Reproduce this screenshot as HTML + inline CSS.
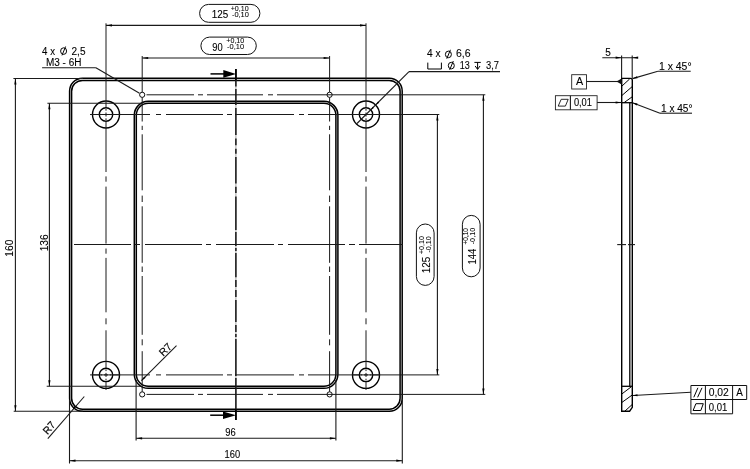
<!DOCTYPE html>
<html><head><meta charset="utf-8"><style>
html,body{margin:0;padding:0;background:#fff;width:750px;height:469px;overflow:hidden;}
svg{display:block;will-change:transform;}
text{font-family:"Liberation Sans",sans-serif;fill:#000;stroke:#000;}
</style></head><body>
<svg width="750" height="469" viewBox="0 0 750 469">
<rect width="750" height="469" fill="#fff"/>
<rect x="69.6" y="78.3" width="332.60" height="332.95" rx="12.8" fill="none" stroke="#000" stroke-width="1.5"/>
<rect x="71.6" y="80.4" width="328.50" height="328.80" rx="10.9" fill="none" stroke="#000" stroke-width="1.5"/>
<rect x="134.3" y="101.3" width="203.60" height="287.00" rx="14" fill="none" stroke="#000" stroke-width="1.5"/>
<rect x="136.3" y="103.3" width="199.60" height="283.00" rx="12" fill="none" stroke="#000" stroke-width="1.5"/>
<circle cx="106" cy="114.5" r="13.5" fill="none" stroke="#000" stroke-width="1.4"/>
<circle cx="106" cy="114.5" r="6.7" fill="none" stroke="#000" stroke-width="1.4"/>
<circle cx="366" cy="114.5" r="13.5" fill="none" stroke="#000" stroke-width="1.4"/>
<circle cx="366" cy="114.5" r="6.7" fill="none" stroke="#000" stroke-width="1.4"/>
<circle cx="106" cy="374.9" r="13.5" fill="none" stroke="#000" stroke-width="1.4"/>
<circle cx="106" cy="374.9" r="6.7" fill="none" stroke="#000" stroke-width="1.4"/>
<circle cx="366" cy="374.9" r="13.5" fill="none" stroke="#000" stroke-width="1.4"/>
<circle cx="366" cy="374.9" r="6.7" fill="none" stroke="#000" stroke-width="1.4"/>
<circle cx="142.2" cy="94.8" r="2.6" fill="none" stroke="#000" stroke-width="0.95"/>
<circle cx="329.6" cy="94.8" r="2.6" fill="none" stroke="#000" stroke-width="0.95"/>
<circle cx="142.2" cy="394.4" r="2.6" fill="none" stroke="#000" stroke-width="0.95"/>
<circle cx="329.6" cy="394.4" r="2.6" fill="none" stroke="#000" stroke-width="0.95"/>
<line x1="90" y1="114.5" x2="150" y2="114.5" stroke="#1a1a1a" stroke-width="1.0" stroke-linecap="butt"/>
<line x1="156" y1="114.5" x2="161" y2="114.5" stroke="#1a1a1a" stroke-width="1.0" stroke-linecap="butt"/>
<line x1="166" y1="114.5" x2="223" y2="114.5" stroke="#1a1a1a" stroke-width="1.0" stroke-linecap="butt"/>
<line x1="227" y1="114.5" x2="232" y2="114.5" stroke="#1a1a1a" stroke-width="1.0" stroke-linecap="butt"/>
<line x1="235" y1="114.5" x2="294" y2="114.5" stroke="#1a1a1a" stroke-width="1.0" stroke-linecap="butt"/>
<line x1="299" y1="114.5" x2="304" y2="114.5" stroke="#1a1a1a" stroke-width="1.0" stroke-linecap="butt"/>
<line x1="308" y1="114.5" x2="439.3" y2="114.5" stroke="#1a1a1a" stroke-width="1.0" stroke-linecap="butt"/>
<line x1="90" y1="374.9" x2="150" y2="374.9" stroke="#1a1a1a" stroke-width="1.0" stroke-linecap="butt"/>
<line x1="156" y1="374.9" x2="161" y2="374.9" stroke="#1a1a1a" stroke-width="1.0" stroke-linecap="butt"/>
<line x1="166" y1="374.9" x2="223" y2="374.9" stroke="#1a1a1a" stroke-width="1.0" stroke-linecap="butt"/>
<line x1="227" y1="374.9" x2="232" y2="374.9" stroke="#1a1a1a" stroke-width="1.0" stroke-linecap="butt"/>
<line x1="235" y1="374.9" x2="294" y2="374.9" stroke="#1a1a1a" stroke-width="1.0" stroke-linecap="butt"/>
<line x1="299" y1="374.9" x2="304" y2="374.9" stroke="#1a1a1a" stroke-width="1.0" stroke-linecap="butt"/>
<line x1="308" y1="374.9" x2="439.3" y2="374.9" stroke="#1a1a1a" stroke-width="1.0" stroke-linecap="butt"/>
<line x1="146.5" y1="94.8" x2="194" y2="94.8" stroke="#1a1a1a" stroke-width="1.0" stroke-linecap="butt"/>
<line x1="198" y1="94.8" x2="203" y2="94.8" stroke="#1a1a1a" stroke-width="1.0" stroke-linecap="butt"/>
<line x1="207" y1="94.8" x2="263" y2="94.8" stroke="#1a1a1a" stroke-width="1.0" stroke-linecap="butt"/>
<line x1="268" y1="94.8" x2="273" y2="94.8" stroke="#1a1a1a" stroke-width="1.0" stroke-linecap="butt"/>
<line x1="277" y1="94.8" x2="485.3" y2="94.8" stroke="#1a1a1a" stroke-width="1.0" stroke-linecap="butt"/>
<line x1="146.5" y1="394.4" x2="194" y2="394.4" stroke="#1a1a1a" stroke-width="1.0" stroke-linecap="butt"/>
<line x1="198" y1="394.4" x2="203" y2="394.4" stroke="#1a1a1a" stroke-width="1.0" stroke-linecap="butt"/>
<line x1="207" y1="394.4" x2="263" y2="394.4" stroke="#1a1a1a" stroke-width="1.0" stroke-linecap="butt"/>
<line x1="268" y1="394.4" x2="273" y2="394.4" stroke="#1a1a1a" stroke-width="1.0" stroke-linecap="butt"/>
<line x1="277" y1="394.4" x2="485.3" y2="394.4" stroke="#1a1a1a" stroke-width="1.0" stroke-linecap="butt"/>
<line x1="74" y1="244.5" x2="131" y2="244.5" stroke="#1a1a1a" stroke-width="1.0" stroke-linecap="butt"/>
<line x1="135" y1="244.5" x2="140" y2="244.5" stroke="#1a1a1a" stroke-width="1.0" stroke-linecap="butt"/>
<line x1="145" y1="244.5" x2="202" y2="244.5" stroke="#1a1a1a" stroke-width="1.0" stroke-linecap="butt"/>
<line x1="206" y1="244.5" x2="211" y2="244.5" stroke="#1a1a1a" stroke-width="1.0" stroke-linecap="butt"/>
<line x1="216" y1="244.5" x2="274" y2="244.5" stroke="#1a1a1a" stroke-width="1.0" stroke-linecap="butt"/>
<line x1="278" y1="244.5" x2="283" y2="244.5" stroke="#1a1a1a" stroke-width="1.0" stroke-linecap="butt"/>
<line x1="288" y1="244.5" x2="345" y2="244.5" stroke="#1a1a1a" stroke-width="1.0" stroke-linecap="butt"/>
<line x1="349" y1="244.5" x2="355" y2="244.5" stroke="#1a1a1a" stroke-width="1.0" stroke-linecap="butt"/>
<line x1="359" y1="244.5" x2="403" y2="244.5" stroke="#1a1a1a" stroke-width="1.0" stroke-linecap="butt"/>
<line x1="106" y1="23.3" x2="106" y2="101" stroke="#1a1a1a" stroke-width="1.0" stroke-linecap="butt"/>
<line x1="106" y1="128" x2="106" y2="172" stroke="#1a1a1a" stroke-width="1.0" stroke-linecap="butt"/>
<line x1="106" y1="176.4" x2="106" y2="181.7" stroke="#1a1a1a" stroke-width="1.0" stroke-linecap="butt"/>
<line x1="106" y1="186.6" x2="106" y2="243.6" stroke="#1a1a1a" stroke-width="1.0" stroke-linecap="butt"/>
<line x1="106" y1="248.5" x2="106" y2="253.7" stroke="#1a1a1a" stroke-width="1.0" stroke-linecap="butt"/>
<line x1="106" y1="257.9" x2="106" y2="312.3" stroke="#1a1a1a" stroke-width="1.0" stroke-linecap="butt"/>
<line x1="106" y1="318.3" x2="106" y2="324.3" stroke="#1a1a1a" stroke-width="1.0" stroke-linecap="butt"/>
<line x1="106" y1="330.3" x2="106" y2="361.5" stroke="#1a1a1a" stroke-width="1.0" stroke-linecap="butt"/>
<line x1="106" y1="388.3" x2="106" y2="390" stroke="#1a1a1a" stroke-width="1.0" stroke-linecap="butt"/>
<line x1="366" y1="23.3" x2="366" y2="101" stroke="#1a1a1a" stroke-width="1.0" stroke-linecap="butt"/>
<line x1="366" y1="128" x2="366" y2="172" stroke="#1a1a1a" stroke-width="1.0" stroke-linecap="butt"/>
<line x1="366" y1="176.4" x2="366" y2="181.7" stroke="#1a1a1a" stroke-width="1.0" stroke-linecap="butt"/>
<line x1="366" y1="186.6" x2="366" y2="243.6" stroke="#1a1a1a" stroke-width="1.0" stroke-linecap="butt"/>
<line x1="366" y1="248.5" x2="366" y2="253.7" stroke="#1a1a1a" stroke-width="1.0" stroke-linecap="butt"/>
<line x1="366" y1="257.9" x2="366" y2="312.3" stroke="#1a1a1a" stroke-width="1.0" stroke-linecap="butt"/>
<line x1="366" y1="318.3" x2="366" y2="324.3" stroke="#1a1a1a" stroke-width="1.0" stroke-linecap="butt"/>
<line x1="366" y1="330.3" x2="366" y2="361.5" stroke="#1a1a1a" stroke-width="1.0" stroke-linecap="butt"/>
<line x1="366" y1="388.3" x2="366" y2="390" stroke="#1a1a1a" stroke-width="1.0" stroke-linecap="butt"/>
<line x1="142.2" y1="56" x2="142.2" y2="92.2" stroke="#1a1a1a" stroke-width="1.0" stroke-linecap="butt"/>
<line x1="142.2" y1="97.4" x2="142.2" y2="121.5" stroke="#1a1a1a" stroke-width="1.0" stroke-linecap="butt"/>
<line x1="142.2" y1="125.8" x2="142.2" y2="130" stroke="#1a1a1a" stroke-width="1.0" stroke-linecap="butt"/>
<line x1="142.2" y1="134.3" x2="142.2" y2="190.3" stroke="#1a1a1a" stroke-width="1.0" stroke-linecap="butt"/>
<line x1="142.2" y1="195.6" x2="142.2" y2="202" stroke="#1a1a1a" stroke-width="1.0" stroke-linecap="butt"/>
<line x1="142.2" y1="206.3" x2="142.2" y2="262.8" stroke="#1a1a1a" stroke-width="1.0" stroke-linecap="butt"/>
<line x1="142.2" y1="266.5" x2="142.2" y2="272" stroke="#1a1a1a" stroke-width="1.0" stroke-linecap="butt"/>
<line x1="142.2" y1="276" x2="142.2" y2="334.8" stroke="#1a1a1a" stroke-width="1.0" stroke-linecap="butt"/>
<line x1="142.2" y1="339.3" x2="142.2" y2="345.3" stroke="#1a1a1a" stroke-width="1.0" stroke-linecap="butt"/>
<line x1="142.2" y1="351.2" x2="142.2" y2="391.8" stroke="#1a1a1a" stroke-width="1.0" stroke-linecap="butt"/>
<line x1="329.6" y1="56" x2="329.6" y2="92.2" stroke="#1a1a1a" stroke-width="1.0" stroke-linecap="butt"/>
<line x1="329.6" y1="97.4" x2="329.6" y2="121.5" stroke="#1a1a1a" stroke-width="1.0" stroke-linecap="butt"/>
<line x1="329.6" y1="125.8" x2="329.6" y2="130" stroke="#1a1a1a" stroke-width="1.0" stroke-linecap="butt"/>
<line x1="329.6" y1="134.3" x2="329.6" y2="190.3" stroke="#1a1a1a" stroke-width="1.0" stroke-linecap="butt"/>
<line x1="329.6" y1="195.6" x2="329.6" y2="202" stroke="#1a1a1a" stroke-width="1.0" stroke-linecap="butt"/>
<line x1="329.6" y1="206.3" x2="329.6" y2="262.8" stroke="#1a1a1a" stroke-width="1.0" stroke-linecap="butt"/>
<line x1="329.6" y1="266.5" x2="329.6" y2="272" stroke="#1a1a1a" stroke-width="1.0" stroke-linecap="butt"/>
<line x1="329.6" y1="276" x2="329.6" y2="334.8" stroke="#1a1a1a" stroke-width="1.0" stroke-linecap="butt"/>
<line x1="329.6" y1="339.3" x2="329.6" y2="345.3" stroke="#1a1a1a" stroke-width="1.0" stroke-linecap="butt"/>
<line x1="329.6" y1="351.2" x2="329.6" y2="391.8" stroke="#1a1a1a" stroke-width="1.0" stroke-linecap="butt"/>
<line x1="92.5" y1="114.5" x2="99.2" y2="114.5" stroke="#1a1a1a" stroke-width="1.0" stroke-linecap="butt"/>
<line x1="106" y1="101.0" x2="106" y2="107.7" stroke="#1a1a1a" stroke-width="1.0" stroke-linecap="butt"/>
<line x1="100.5" y1="114.5" x2="102.2" y2="114.5" stroke="#1a1a1a" stroke-width="1.0" stroke-linecap="butt"/>
<line x1="106" y1="109.0" x2="106" y2="110.7" stroke="#1a1a1a" stroke-width="1.0" stroke-linecap="butt"/>
<line x1="104" y1="114.5" x2="108" y2="114.5" stroke="#1a1a1a" stroke-width="1.0" stroke-linecap="butt"/>
<line x1="106" y1="112.5" x2="106" y2="116.5" stroke="#1a1a1a" stroke-width="1.0" stroke-linecap="butt"/>
<line x1="109.8" y1="114.5" x2="111.5" y2="114.5" stroke="#1a1a1a" stroke-width="1.0" stroke-linecap="butt"/>
<line x1="106" y1="118.3" x2="106" y2="120.0" stroke="#1a1a1a" stroke-width="1.0" stroke-linecap="butt"/>
<line x1="112.8" y1="114.5" x2="119.5" y2="114.5" stroke="#1a1a1a" stroke-width="1.0" stroke-linecap="butt"/>
<line x1="106" y1="121.3" x2="106" y2="128.0" stroke="#1a1a1a" stroke-width="1.0" stroke-linecap="butt"/>
<line x1="352.5" y1="114.5" x2="359.2" y2="114.5" stroke="#1a1a1a" stroke-width="1.0" stroke-linecap="butt"/>
<line x1="366" y1="101.0" x2="366" y2="107.7" stroke="#1a1a1a" stroke-width="1.0" stroke-linecap="butt"/>
<line x1="360.5" y1="114.5" x2="362.2" y2="114.5" stroke="#1a1a1a" stroke-width="1.0" stroke-linecap="butt"/>
<line x1="366" y1="109.0" x2="366" y2="110.7" stroke="#1a1a1a" stroke-width="1.0" stroke-linecap="butt"/>
<line x1="364" y1="114.5" x2="368" y2="114.5" stroke="#1a1a1a" stroke-width="1.0" stroke-linecap="butt"/>
<line x1="366" y1="112.5" x2="366" y2="116.5" stroke="#1a1a1a" stroke-width="1.0" stroke-linecap="butt"/>
<line x1="369.8" y1="114.5" x2="371.5" y2="114.5" stroke="#1a1a1a" stroke-width="1.0" stroke-linecap="butt"/>
<line x1="366" y1="118.3" x2="366" y2="120.0" stroke="#1a1a1a" stroke-width="1.0" stroke-linecap="butt"/>
<line x1="372.8" y1="114.5" x2="379.5" y2="114.5" stroke="#1a1a1a" stroke-width="1.0" stroke-linecap="butt"/>
<line x1="366" y1="121.3" x2="366" y2="128.0" stroke="#1a1a1a" stroke-width="1.0" stroke-linecap="butt"/>
<line x1="92.5" y1="374.9" x2="99.2" y2="374.9" stroke="#1a1a1a" stroke-width="1.0" stroke-linecap="butt"/>
<line x1="106" y1="361.4" x2="106" y2="368.09999999999997" stroke="#1a1a1a" stroke-width="1.0" stroke-linecap="butt"/>
<line x1="100.5" y1="374.9" x2="102.2" y2="374.9" stroke="#1a1a1a" stroke-width="1.0" stroke-linecap="butt"/>
<line x1="106" y1="369.4" x2="106" y2="371.09999999999997" stroke="#1a1a1a" stroke-width="1.0" stroke-linecap="butt"/>
<line x1="104" y1="374.9" x2="108" y2="374.9" stroke="#1a1a1a" stroke-width="1.0" stroke-linecap="butt"/>
<line x1="106" y1="372.9" x2="106" y2="376.9" stroke="#1a1a1a" stroke-width="1.0" stroke-linecap="butt"/>
<line x1="109.8" y1="374.9" x2="111.5" y2="374.9" stroke="#1a1a1a" stroke-width="1.0" stroke-linecap="butt"/>
<line x1="106" y1="378.7" x2="106" y2="380.4" stroke="#1a1a1a" stroke-width="1.0" stroke-linecap="butt"/>
<line x1="112.8" y1="374.9" x2="119.5" y2="374.9" stroke="#1a1a1a" stroke-width="1.0" stroke-linecap="butt"/>
<line x1="106" y1="381.7" x2="106" y2="388.4" stroke="#1a1a1a" stroke-width="1.0" stroke-linecap="butt"/>
<line x1="352.5" y1="374.9" x2="359.2" y2="374.9" stroke="#1a1a1a" stroke-width="1.0" stroke-linecap="butt"/>
<line x1="366" y1="361.4" x2="366" y2="368.09999999999997" stroke="#1a1a1a" stroke-width="1.0" stroke-linecap="butt"/>
<line x1="360.5" y1="374.9" x2="362.2" y2="374.9" stroke="#1a1a1a" stroke-width="1.0" stroke-linecap="butt"/>
<line x1="366" y1="369.4" x2="366" y2="371.09999999999997" stroke="#1a1a1a" stroke-width="1.0" stroke-linecap="butt"/>
<line x1="364" y1="374.9" x2="368" y2="374.9" stroke="#1a1a1a" stroke-width="1.0" stroke-linecap="butt"/>
<line x1="366" y1="372.9" x2="366" y2="376.9" stroke="#1a1a1a" stroke-width="1.0" stroke-linecap="butt"/>
<line x1="369.8" y1="374.9" x2="371.5" y2="374.9" stroke="#1a1a1a" stroke-width="1.0" stroke-linecap="butt"/>
<line x1="366" y1="378.7" x2="366" y2="380.4" stroke="#1a1a1a" stroke-width="1.0" stroke-linecap="butt"/>
<line x1="372.8" y1="374.9" x2="379.5" y2="374.9" stroke="#1a1a1a" stroke-width="1.0" stroke-linecap="butt"/>
<line x1="366" y1="381.7" x2="366" y2="388.4" stroke="#1a1a1a" stroke-width="1.0" stroke-linecap="butt"/>
<line x1="235.9" y1="69" x2="235.9" y2="420" stroke="#999" stroke-width="0.9" stroke-linecap="butt"/>
<line x1="235.9" y1="69" x2="235.9" y2="86.5" stroke="#000" stroke-width="1.35" stroke-linecap="butt"/>
<line x1="235.9" y1="89" x2="235.9" y2="105" stroke="#000" stroke-width="1.35" stroke-linecap="butt"/>
<line x1="235.9" y1="108" x2="235.9" y2="135" stroke="#000" stroke-width="1.35" stroke-linecap="butt"/>
<line x1="235.9" y1="138.5" x2="235.9" y2="145.3" stroke="#000" stroke-width="1.35" stroke-linecap="butt"/>
<line x1="235.9" y1="148.7" x2="235.9" y2="153.8" stroke="#000" stroke-width="1.35" stroke-linecap="butt"/>
<line x1="235.9" y1="157" x2="235.9" y2="183.5" stroke="#000" stroke-width="1.35" stroke-linecap="butt"/>
<line x1="235.9" y1="186.8" x2="235.9" y2="193" stroke="#000" stroke-width="1.35" stroke-linecap="butt"/>
<line x1="235.9" y1="196.4" x2="235.9" y2="230" stroke="#000" stroke-width="1.35" stroke-linecap="butt"/>
<line x1="235.9" y1="232" x2="235.9" y2="246" stroke="#000" stroke-width="1.35" stroke-linecap="butt"/>
<line x1="235.9" y1="248" x2="235.9" y2="251" stroke="#000" stroke-width="1.35" stroke-linecap="butt"/>
<line x1="235.9" y1="253" x2="235.9" y2="277.3" stroke="#000" stroke-width="1.35" stroke-linecap="butt"/>
<line x1="235.9" y1="280" x2="235.9" y2="287" stroke="#000" stroke-width="1.35" stroke-linecap="butt"/>
<line x1="235.9" y1="290" x2="235.9" y2="297" stroke="#000" stroke-width="1.35" stroke-linecap="butt"/>
<line x1="235.9" y1="300" x2="235.9" y2="322" stroke="#000" stroke-width="1.35" stroke-linecap="butt"/>
<line x1="235.9" y1="325" x2="235.9" y2="332" stroke="#000" stroke-width="1.35" stroke-linecap="butt"/>
<line x1="235.9" y1="334" x2="235.9" y2="337" stroke="#000" stroke-width="1.35" stroke-linecap="butt"/>
<line x1="235.9" y1="339" x2="235.9" y2="376" stroke="#000" stroke-width="1.35" stroke-linecap="butt"/>
<line x1="235.9" y1="378" x2="235.9" y2="420" stroke="#000" stroke-width="1.35" stroke-linecap="butt"/>
<line x1="235.9" y1="69" x2="235.9" y2="80" stroke="#000" stroke-width="1.6" stroke-linecap="butt"/>
<line x1="235.9" y1="409" x2="235.9" y2="420" stroke="#000" stroke-width="1.6" stroke-linecap="butt"/>
<line x1="210.5" y1="73.9" x2="226" y2="73.9" stroke="#000" stroke-width="1.5" stroke-linecap="butt"/>
<path d="M236,73.9 L223.3,70.1 L223.3,77.7 Z" fill="#000"/>
<line x1="210.2" y1="415.2" x2="226" y2="415.2" stroke="#000" stroke-width="1.5" stroke-linecap="butt"/>
<path d="M236,415.2 L223,411.6 L223,418.9 Z" fill="#000"/>
<line x1="13.4" y1="78.5" x2="83" y2="78.5" stroke="#1a1a1a" stroke-width="1.1" stroke-linecap="butt"/>
<line x1="13.7" y1="411.3" x2="83" y2="411.3" stroke="#1a1a1a" stroke-width="1.1" stroke-linecap="butt"/>
<line x1="47.4" y1="103.3" x2="141.5" y2="103.3" stroke="#1a1a1a" stroke-width="1.1" stroke-linecap="butt"/>
<line x1="46.7" y1="386.3" x2="141.5" y2="386.3" stroke="#1a1a1a" stroke-width="1.1" stroke-linecap="butt"/>
<line x1="69.5" y1="400" x2="69.5" y2="463.5" stroke="#1a1a1a" stroke-width="1.1" stroke-linecap="butt"/>
<line x1="402.3" y1="400" x2="402.3" y2="463.5" stroke="#1a1a1a" stroke-width="1.1" stroke-linecap="butt"/>
<line x1="136.1" y1="380" x2="136.1" y2="440.5" stroke="#1a1a1a" stroke-width="1.1" stroke-linecap="butt"/>
<line x1="335.9" y1="380" x2="335.9" y2="440.5" stroke="#1a1a1a" stroke-width="1.1" stroke-linecap="butt"/>
<line x1="106" y1="25.4" x2="366" y2="25.4" stroke="#1a1a1a" stroke-width="1.1" stroke-linecap="butt"/>
<path d="M106.00,25.40 L112.00,24.30 L112.00,26.50 Z" fill="#000"/>
<path d="M366.00,25.40 L360.00,26.50 L360.00,24.30 Z" fill="#000"/>
<line x1="142.2" y1="58" x2="329.6" y2="58" stroke="#1a1a1a" stroke-width="1.1" stroke-linecap="butt"/>
<path d="M142.20,58.00 L148.20,56.90 L148.20,59.10 Z" fill="#000"/>
<path d="M329.60,58.00 L323.60,59.10 L323.60,56.90 Z" fill="#000"/>
<line x1="15.4" y1="78.5" x2="15.4" y2="411.3" stroke="#1a1a1a" stroke-width="1.1" stroke-linecap="butt"/>
<path d="M15.40,78.50 L16.50,84.50 L14.30,84.50 Z" fill="#000"/>
<path d="M15.40,411.30 L14.30,405.30 L16.50,405.30 Z" fill="#000"/>
<line x1="49.4" y1="103.3" x2="49.4" y2="386.3" stroke="#1a1a1a" stroke-width="1.1" stroke-linecap="butt"/>
<path d="M49.40,103.30 L50.50,109.30 L48.30,109.30 Z" fill="#000"/>
<path d="M49.40,386.30 L48.30,380.30 L50.50,380.30 Z" fill="#000"/>
<line x1="136.1" y1="438.3" x2="335.9" y2="438.3" stroke="#1a1a1a" stroke-width="1.1" stroke-linecap="butt"/>
<path d="M136.10,438.30 L142.10,437.20 L142.10,439.40 Z" fill="#000"/>
<path d="M335.90,438.30 L329.90,439.40 L329.90,437.20 Z" fill="#000"/>
<line x1="69.5" y1="460.7" x2="402.3" y2="460.7" stroke="#1a1a1a" stroke-width="1.1" stroke-linecap="butt"/>
<path d="M69.50,460.70 L75.50,459.60 L75.50,461.80 Z" fill="#000"/>
<path d="M402.30,460.70 L396.30,461.80 L396.30,459.60 Z" fill="#000"/>
<line x1="437.4" y1="114.5" x2="437.4" y2="374.9" stroke="#1a1a1a" stroke-width="1.1" stroke-linecap="butt"/>
<path d="M437.40,114.50 L438.50,120.50 L436.30,120.50 Z" fill="#000"/>
<path d="M437.40,374.90 L436.30,368.90 L438.50,368.90 Z" fill="#000"/>
<line x1="483.4" y1="94.8" x2="483.4" y2="394.4" stroke="#1a1a1a" stroke-width="1.1" stroke-linecap="butt"/>
<path d="M483.40,94.80 L484.50,100.80 L482.30,100.80 Z" fill="#000"/>
<path d="M483.40,394.40 L482.30,388.40 L484.50,388.40 Z" fill="#000"/>
<text x="211.70" y="17.80" font-size="10" stroke-width="0.1" textLength="16.50" lengthAdjust="spacingAndGlyphs">125</text>
<text x="230.70" y="11.30" font-size="7.6" stroke-width="0.06" textLength="17.97" lengthAdjust="spacingAndGlyphs">+0,10</text>
<text x="231.90" y="17.00" font-size="7.6" stroke-width="0.06" textLength="17.02" lengthAdjust="spacingAndGlyphs">-0,10</text>
<text x="212.30" y="50.70" font-size="10" stroke-width="0.1" textLength="10.37" lengthAdjust="spacingAndGlyphs">90</text>
<text x="226.30" y="43.10" font-size="7.6" stroke-width="0.06" textLength="17.96" lengthAdjust="spacingAndGlyphs">+0,10</text>
<text x="227.10" y="49.20" font-size="7.6" stroke-width="0.06" textLength="16.98" lengthAdjust="spacingAndGlyphs">-0,10</text>
<text x="-256.70" y="13.40" font-size="10" stroke-width="0.1" textLength="17.13" lengthAdjust="spacingAndGlyphs" transform="rotate(-90)">160</text>
<text x="-251.30" y="47.60" font-size="10" stroke-width="0.1" textLength="17.00" lengthAdjust="spacingAndGlyphs" transform="rotate(-90)">136</text>
<text x="225.20" y="436.40" font-size="10" stroke-width="0.1" textLength="10.45" lengthAdjust="spacingAndGlyphs">96</text>
<text x="224.60" y="457.80" font-size="10" stroke-width="0.1" textLength="15.53" lengthAdjust="spacingAndGlyphs">160</text>
<text x="-273.30" y="429.80" font-size="10" stroke-width="0.1" textLength="16.50" lengthAdjust="spacingAndGlyphs" transform="rotate(-90)">125</text>
<text x="-254.10" y="423.80" font-size="7.6" stroke-width="0.06" textLength="17.92" lengthAdjust="spacingAndGlyphs" transform="rotate(-90)">+0,10</text>
<text x="-252.60" y="430.60" font-size="7.6" stroke-width="0.06" textLength="16.47" lengthAdjust="spacingAndGlyphs" transform="rotate(-90)">-0,10</text>
<text x="-264.50" y="475.80" font-size="10" stroke-width="0.1" textLength="15.94" lengthAdjust="spacingAndGlyphs" transform="rotate(-90)">144</text>
<text x="-244.50" y="468.00" font-size="7.6" stroke-width="0.06" textLength="16.43" lengthAdjust="spacingAndGlyphs" transform="rotate(-90)">+0,10</text>
<text x="-244.30" y="474.80" font-size="7.6" stroke-width="0.06" textLength="16.51" lengthAdjust="spacingAndGlyphs" transform="rotate(-90)">-0,10</text>
<text x="42.10" y="54.90" font-size="10.0" stroke-width="0.1" textLength="12.91" lengthAdjust="spacingAndGlyphs">4 x</text>
<text x="71.50" y="54.90" font-size="10.0" stroke-width="0.1" textLength="13.97" lengthAdjust="spacingAndGlyphs">2,5</text>
<text x="45.90" y="66.20" font-size="10" stroke-width="0.1" textLength="35.53" lengthAdjust="spacingAndGlyphs">M3 - 6H</text>
<text x="427.00" y="57.40" font-size="10.0" stroke-width="0.1" textLength="13.53" lengthAdjust="spacingAndGlyphs">4 x</text>
<text x="455.90" y="57.40" font-size="10.0" stroke-width="0.1" textLength="14.57" lengthAdjust="spacingAndGlyphs">6,6</text>
<text x="459.80" y="69.20" font-size="10.0" stroke-width="0.1" textLength="9.98" lengthAdjust="spacingAndGlyphs">13</text>
<text x="486.00" y="69.20" font-size="10.0" stroke-width="0.1" textLength="12.97" lengthAdjust="spacingAndGlyphs">3,7</text>
<text x="605.20" y="56.00" font-size="10" stroke-width="0.1" textLength="5.58" lengthAdjust="spacingAndGlyphs">5</text>
<text x="576.10" y="85.00" font-size="10" stroke-width="0.1" textLength="7.16" lengthAdjust="spacingAndGlyphs">A</text>
<text x="573.90" y="106.00" font-size="10" stroke-width="0.1" textLength="18.03" lengthAdjust="spacingAndGlyphs">0,01</text>
<text x="659.00" y="70.00" font-size="10" stroke-width="0.1" textLength="32.58" lengthAdjust="spacingAndGlyphs">1 x 45°</text>
<text x="661.00" y="111.70" font-size="10" stroke-width="0.1" textLength="31.53" lengthAdjust="spacingAndGlyphs">1 x 45°</text>
<text x="708.70" y="396.40" font-size="10" stroke-width="0.1" textLength="20.14" lengthAdjust="spacingAndGlyphs">0,02</text>
<text x="736.30" y="396.40" font-size="10" stroke-width="0.1" textLength="6.58" lengthAdjust="spacingAndGlyphs">A</text>
<text x="708.70" y="410.50" font-size="10" stroke-width="0.1" textLength="18.57" lengthAdjust="spacingAndGlyphs">0,01</text>
<rect x="199.6" y="4.4" width="60.30" height="17.90" rx="8.95" ry="8.95" fill="none" stroke="#111" stroke-width="1.0"/>
<rect x="200.9" y="37.1" width="55.40" height="17.40" rx="8.70" ry="8.70" fill="none" stroke="#111" stroke-width="1.0"/>
<rect x="416.4" y="224" width="17.70" height="61.40" rx="8.85" ry="8.85" fill="none" stroke="#111" stroke-width="1.0"/>
<rect x="462.4" y="215.4" width="17.70" height="61.40" rx="8.85" ry="8.85" fill="none" stroke="#111" stroke-width="1.0"/>
<line x1="42.1" y1="67.8" x2="95.9" y2="67.8" stroke="#1a1a1a" stroke-width="1.1" stroke-linecap="butt"/>
<line x1="95.9" y1="67.8" x2="139.5" y2="93.3" stroke="#1a1a1a" stroke-width="1.1" stroke-linecap="butt"/>
<line x1="409" y1="71.6" x2="500" y2="71.6" stroke="#1a1a1a" stroke-width="1.1" stroke-linecap="butt"/>
<line x1="409" y1="71.6" x2="357" y2="123.5" stroke="#1a1a1a" stroke-width="1.1" stroke-linecap="butt"/>
<path d="M375.80,104.90 L377.99,101.44 L379.26,102.71 Z" fill="#000"/>
<path d="M370.80,109.80 L372.71,106.76 L373.84,107.89 Z" fill="#000"/>
<ellipse cx="63.60" cy="51.10" rx="3.0" ry="3.3" fill="none" stroke="#000" stroke-width="1.0"/>
<line x1="62.00" y1="55.40" x2="65.60" y2="46.50" stroke="#000" stroke-width="1.0"/>
<ellipse cx="448.40" cy="54.40" rx="3.0" ry="3.3" fill="none" stroke="#000" stroke-width="1.0"/>
<line x1="446.80" y1="58.70" x2="450.40" y2="49.80" stroke="#000" stroke-width="1.0"/>
<ellipse cx="451.30" cy="65.60" rx="3.0" ry="3.3" fill="none" stroke="#000" stroke-width="1.0"/>
<line x1="449.70" y1="69.90" x2="453.30" y2="61.00" stroke="#000" stroke-width="1.0"/>
<path d="M427.8,62.6 V69 H441.4 V62.6" fill="none" stroke="#000" stroke-width="1"/>
<path d="M474.4,62.4 H480.8 M477.6,62.4 V69.2 M475.2,66 L477.6,69.4 L480,66" fill="none" stroke="#000" stroke-width="1"/>
<line x1="84.3" y1="396.5" x2="47.8" y2="438.7" stroke="#1a1a1a" stroke-width="1.1" stroke-linecap="butt"/>
<path d="M72.30,410.00 L74.79,405.55 L76.31,406.85 Z" fill="#000"/>
<text x="51.8" y="430.2" font-size="10.5" stroke-width="0.15" text-anchor="middle" transform="rotate(-49 51.8 430.2)">R7</text>
<line x1="176.5" y1="345.7" x2="141.4" y2="380.7" stroke="#1a1a1a" stroke-width="1.1" stroke-linecap="butt"/>
<path d="M141.40,380.70 L144.23,376.46 L145.64,377.87 Z" fill="#000"/>
<text x="167.9" y="352" font-size="10.5" stroke-width="0.15" text-anchor="middle" transform="rotate(-45 167.9 352)">R7</text>
<line x1="621.6" y1="55.4" x2="621.6" y2="78.4" stroke="#1a1a1a" stroke-width="1.1" stroke-linecap="butt"/>
<line x1="632.2" y1="55.4" x2="632.2" y2="78.4" stroke="#1a1a1a" stroke-width="1.1" stroke-linecap="butt"/>
<line x1="602.3" y1="57.7" x2="638" y2="57.7" stroke="#1a1a1a" stroke-width="1.1" stroke-linecap="butt"/>
<path d="M621.60,57.70 L615.60,58.80 L615.60,56.60 Z" fill="#000"/>
<path d="M632.20,57.70 L638.20,56.60 L638.20,58.80 Z" fill="#000"/>
<path d="M621.7,78.4 H630.4 Q632.3,78.4 632.3,80.3 V407.4 L629.6,411.2 H621.7 Z" fill="none" stroke="#000" stroke-width="1.4"/>
<line x1="621.7" y1="102.7" x2="632.3" y2="102.7" stroke="#000" stroke-width="1.3" stroke-linecap="butt"/>
<line x1="621.7" y1="386.3" x2="632.3" y2="386.3" stroke="#000" stroke-width="1.3" stroke-linecap="butt"/>
<line x1="629.8" y1="102.7" x2="629.8" y2="386.3" stroke="#000" stroke-width="1.3" stroke-linecap="butt"/>
<line x1="621.8" y1="86.2" x2="629.6" y2="79" stroke="#000" stroke-width="1.0" stroke-linecap="butt"/>
<line x1="621.8" y1="95.6" x2="632.2" y2="86.6" stroke="#000" stroke-width="1.0" stroke-linecap="butt"/>
<line x1="624.1" y1="102.6" x2="632.2" y2="96.8" stroke="#000" stroke-width="1.0" stroke-linecap="butt"/>
<line x1="621.8" y1="394" x2="631" y2="387" stroke="#000" stroke-width="1.0" stroke-linecap="butt"/>
<line x1="621.8" y1="402.5" x2="632.2" y2="395" stroke="#000" stroke-width="1.0" stroke-linecap="butt"/>
<line x1="624.8" y1="411.2" x2="632.2" y2="404.5" stroke="#000" stroke-width="1.0" stroke-linecap="butt"/>
<line x1="617.2" y1="244.6" x2="626" y2="244.6" stroke="#1a1a1a" stroke-width="1.1" stroke-linecap="butt"/>
<line x1="628" y1="244.6" x2="635" y2="244.6" stroke="#1a1a1a" stroke-width="1.1" stroke-linecap="butt"/>
<rect x="571.7" y="74.7" width="14.8" height="14.3" fill="none" stroke="#222" stroke-width="0.9"/>
<line x1="586.5" y1="81.5" x2="618" y2="81.5" stroke="#1a1a1a" stroke-width="1.1" stroke-linecap="butt"/>
<path d="M621.6,78.5 L616.5,81.5 L621.6,84.5 Z" fill="#111"/>
<rect x="555.4" y="95.7" width="41.7" height="14.1" fill="none" stroke="#222" stroke-width="0.9"/>
<line x1="570.4" y1="95.7" x2="570.4" y2="109.8" stroke="#1a1a1a" stroke-width="1.1" stroke-linecap="butt"/>
<path d="M558.2,106.1 L561.2,99.3 H568.2 L565.4,106.1 Z" fill="none" stroke="#111" stroke-width="0.9"/>
<line x1="597.1" y1="102.5" x2="621.6" y2="102.5" stroke="#1a1a1a" stroke-width="1.1" stroke-linecap="butt"/>
<path d="M621.60,102.50 L615.60,103.60 L615.60,101.40 Z" fill="#000"/>
<line x1="657.9" y1="71.3" x2="690.7" y2="71.3" stroke="#1a1a1a" stroke-width="1.1" stroke-linecap="butt"/>
<line x1="657.9" y1="71.3" x2="632.5" y2="78.6" stroke="#1a1a1a" stroke-width="1.1" stroke-linecap="butt"/>
<path d="M632.50,78.60 L637.02,76.25 L637.58,78.17 Z" fill="#000"/>
<line x1="660" y1="113.2" x2="692" y2="113.2" stroke="#1a1a1a" stroke-width="1.1" stroke-linecap="butt"/>
<line x1="660" y1="113.2" x2="632.5" y2="102.7" stroke="#1a1a1a" stroke-width="1.1" stroke-linecap="butt"/>
<path d="M632.50,102.70 L637.53,103.54 L636.82,105.41 Z" fill="#000"/>
<path d="M690.9,385.5 H746.7 V399.5 H690.9 Z M690.9,399.5 V413.8 H732.6 V399.5 M705.4,385.5 V413.8 M732.6,385.5 V399.5" fill="none" stroke="#111" stroke-width="1"/>
<path d="M693.8,397.3 L697.9,387.8 M697.6,397.3 L702,387.8" stroke="#000" stroke-width="1"/>
<path d="M693.1,410.5 L695.9,403.7 H703.3 L700.8,410.5 Z" fill="none" stroke="#000" stroke-width="1"/>
<line x1="690.9" y1="392.3" x2="633" y2="395.5" stroke="#1a1a1a" stroke-width="1.1" stroke-linecap="butt"/>
<path d="M632.50,395.50 L637.44,394.25 L637.54,396.25 Z" fill="#000"/>
</svg>
</body></html>
